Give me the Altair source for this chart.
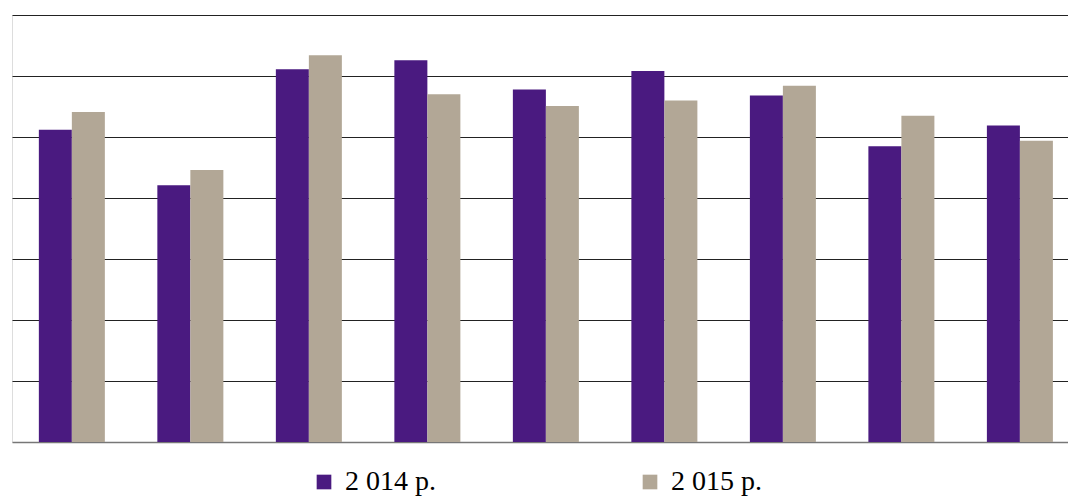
import altair as alt
import pandas as pd

groups = ["1", "2", "3", "4", "5", "6", "7", "8", "9"]
series = ["2 014 р.", "2 015 р."]
values_2014 = [5.12, 4.21, 6.11, 6.26, 5.78, 6.08, 5.68, 4.85, 5.19]
values_2015 = [5.41, 4.46, 6.34, 5.70, 5.51, 5.60, 5.84, 5.35, 4.94]
colors = ["#4A1A80", "#B2A796"]

rows = []
for g, a, b in zip(groups, values_2014, values_2015):
    rows.append({"group": g, "series": series[0], "value": a})
    rows.append({"group": g, "series": series[1], "value": b})
df = pd.DataFrame(rows)

chart = alt.Chart(df).mark_bar().encode(
    x=alt.X("group:N", sort=groups,
            scale=alt.Scale(paddingInner=0.443, paddingOuter=0.177, align=0.64),
            axis=alt.Axis(title=None, labels=False, ticks=False, domain=True,
                          domainColor="#777777", domainWidth=1.5, grid=False)),
    xOffset=alt.XOffset("series:N", sort=series),
    y=alt.Y("value:Q", scale=alt.Scale(domain=[0, 7], nice=False, zero=True),
            axis=alt.Axis(title=None, labels=False, ticks=False, domain=False,
                          values=[1, 2, 3, 4, 5, 6, 7], grid=True,
                          gridColor="#222222", gridWidth=1.2, gridOpacity=1)),
    color=alt.Color("series:N", sort=series,
                    scale=alt.Scale(domain=series, range=colors),
                    legend=alt.Legend(title=None, orient="none", legendX=298, legendY=453,
                                      direction="horizontal", columns=2,
                                      columnPadding=200, symbolType="square",
                                      symbolSize=215, symbolStrokeWidth=0,
                                      labelFont="'Liberation Serif', 'DejaVu Serif', serif",
                                      labelFontSize=28,
                                      labelColor="#000000", labelOffset=7, padding=0)),
).properties(
    width=1056, height=427,
    autosize=alt.AutoSizeParams(type="none"),
    padding={"left": 12, "top": 15, "right": 0, "bottom": 56},
).configure_view(stroke=None).configure(background="white")

chart.save("out.html", embed_options={"renderer": "svg", "actions": False})
